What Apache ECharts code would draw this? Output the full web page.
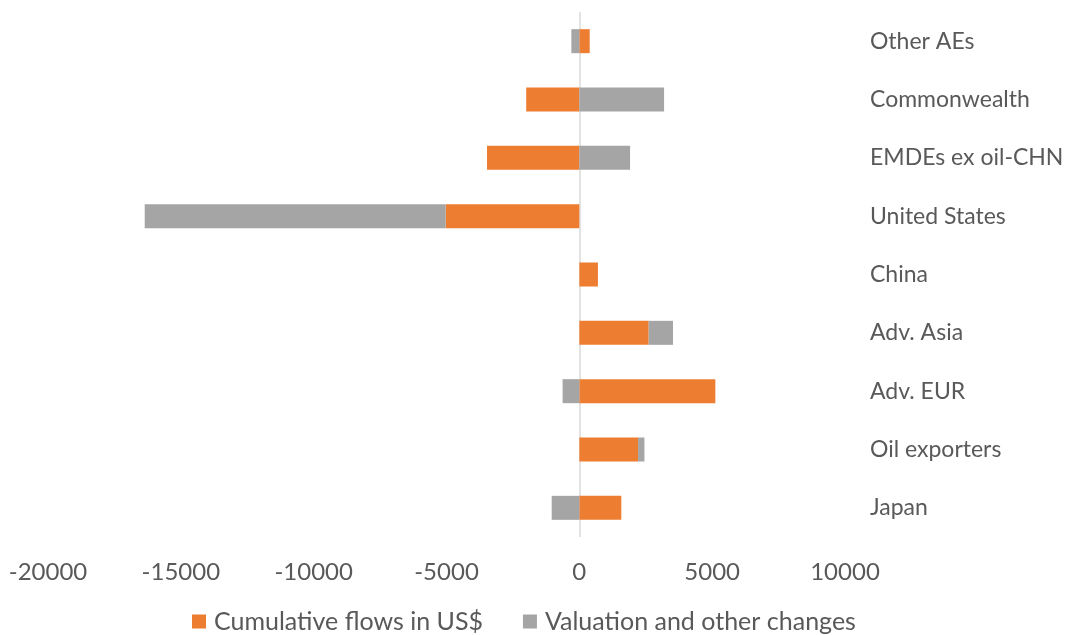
<!DOCTYPE html>
<html>
<head>
<meta charset="utf-8">
<script src="https://cdn.jsdelivr.net/npm/echarts@6/dist/echarts.min.js"></script>
<style>
  html, body { margin: 0; padding: 0; background: #fff; }
  #chart { width: 1068px; height: 635px; }
</style>
</head>
<body>
<div id="chart"></div>
<script>
// Regions, listed bottom to top as the category axis draws them
const regions = ['Japan', 'Oil exporters', 'Adv. EUR', 'Adv. Asia', 'China',
                 'United States', 'EMDEs ex oil-CHN', 'Commonwealth', 'Other AEs'];
// Cumulative flows in US$
const cumulativeFlows = [1580, 2210, 5120, 2610, 700, -5030, -3475, -2000, 390];
// Valuation and other changes
const valuationChanges = [-1040, 240, -630, 915, 0, -11330, 1910, 3190, -300];
const xTicks = { min: -20000, max: 10000, interval: 5000 };

const FONT = 'Lato, "Open Sans", sans-serif';
const TEXT = '#595959';

const chart = echarts.init(document.getElementById('chart'));
chart.setOption({
  animation: false,
  textStyle: { fontFamily: FONT },
  grid: {
    left: 48, right: 223, top: 12, bottom: 98,
    containLabel: false, outerBoundsMode: 'none'
  },
  xAxis: {
    type: 'value',
    min: xTicks.min, max: xTicks.max, interval: xTicks.interval,
    axisLine: { show: false },
    axisTick: { show: false },
    splitLine: { show: false },
    axisLabel: {
      color: TEXT, fontSize: 24, margin: 23, fontFamily: FONT,
      formatter: v => String(v)
    }
  },
  yAxis: {
    type: 'category',
    data: regions,
    position: 'right',
    axisLine: { show: false },
    axisTick: { show: false },
    axisLabel: { color: TEXT, fontSize: 23, margin: 25, align: 'left', fontFamily: FONT }
  },
  legend: {
    bottom: -4,
    left: 187,
    itemWidth: 14, itemHeight: 14, itemGap: 40,
    icon: 'rect',
    textStyle: { color: TEXT, fontSize: 25, fontFamily: FONT, padding: [0, 0, 0, 3] },
    data: ['Cumulative flows in US$', 'Valuation and other changes']
  },
  series: [
    {
      name: 'Cumulative flows in US$',
      type: 'bar',
      stack: 'total',
      barWidth: 24,
      itemStyle: { color: '#ED7D31' },
      data: cumulativeFlows,
      markLine: {
        silent: true,
        symbol: 'none',
        label: { show: false },
        z: 1,
        lineStyle: { color: '#E3E3E3', width: 2, type: 'solid' },
        data: [{ xAxis: 0 }]
      }
    },
    {
      name: 'Valuation and other changes',
      type: 'bar',
      stack: 'total',
      barWidth: 24,
      itemStyle: { color: '#A5A5A5' },
      data: valuationChanges
    }
  ]
});
</script>
</body>
</html>
